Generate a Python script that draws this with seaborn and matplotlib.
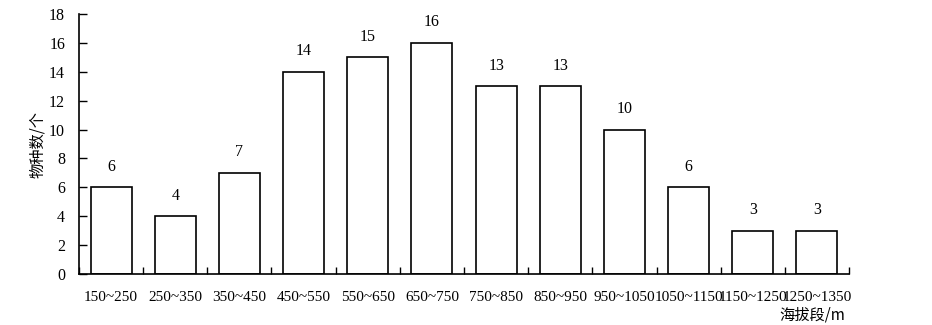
import matplotlib
matplotlib.use("Agg")
import matplotlib.pyplot as plt
import seaborn as sns
import pandas as pd
import numpy as np

categories = ["150~250", "250~350", "350~450", "450~550", "550~650", "650~750",
              "750~850", "850~950", "950~1050", "1050~1150", "1150~1250", "1250~1350"]
counts = [6, 4, 7, 14, 15, 16, 13, 13, 10, 6, 3, 3]

sns.set_theme(style="white")
plt.rcParams['font.family'] = ['Liberation Serif', 'Noto Sans CJK SC']

df = pd.DataFrame({"band": categories, "n": counts})

fig = plt.figure(figsize=(9.32, 3.25), dpi=100)
ax = fig.add_axes([79/932, 1-274/325, 770/932, 260/325])

sns.barplot(data=df, x="band", y="n", ax=ax, color="white", edgecolor="black",
            linewidth=1.2, width=0.64, saturation=1)

for c in ax.containers:
    ax.bar_label(c, labels=[str(v) for v in counts], padding=9, fontsize=11.5, color="black")

ax.set_xlim(-0.5, len(categories) - 0.5)
ax.set_ylim(0, 18)
ax.set_yticks(np.arange(0, 19, 2))
ax.tick_params(axis="y", direction="in", length=6, width=1, pad=10, labelsize=11.5, colors="black", left=True)
ax.set_xticks(np.arange(len(categories)))
ax.set_xticklabels(categories)
ax.set_xticks(np.arange(-0.5, len(categories) + 0.5, 1), minor=True)
ax.tick_params(axis="x", which="major", length=0, pad=12, labelsize=11, colors="black")
ax.tick_params(axis="x", which="minor", direction="in", length=5, width=1, bottom=True, colors="black")

for s in ["top", "right"]:
    ax.spines[s].set_visible(False)
for s in ["left", "bottom"]:
    ax.spines[s].set_color("black")
    ax.spines[s].set_linewidth(1.2)

ax.set_xlabel("")
ax.set_ylabel("物种数/个", fontsize=11, color="black",
              family=['Noto Sans CJK SC', 'Liberation Serif'], labelpad=2)

fig.text(812/932, 1-315/325, "海拔段/m", ha="center", va="center", fontsize=11,
         family=['Noto Sans CJK SC', 'Liberation Serif'], color="black")

fig.savefig("out.png", dpi=100, facecolor="white")
